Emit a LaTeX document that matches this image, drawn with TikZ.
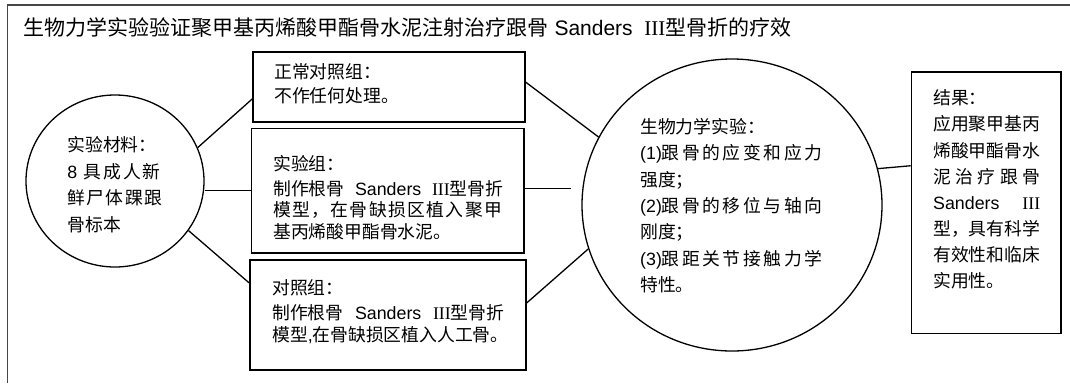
\documentclass[tikz,border=0pt]{standalone}
\usepackage{fontspec}
\setmainfont{Noto Sans CJK SC}
\newfontfamily\lat{Liberation Sans}
\newfontfamily\tnr{Liberation Serif}
\usetikzlibrary{shapes.geometric}
\definecolor{framegray}{RGB}{70,70,70}
\newcommand\jl[2]{\makebox[#1pt][s]{#2}}
\begin{document}
\begin{tikzpicture}[x=1pt,y=-1pt,
  boxnode/.style={draw=black, line width=1.6pt, rectangle, inner sep=0pt},
  ovalnode/.style={draw=black, line width=1.3pt, ellipse, inner sep=0pt},
  txt/.style={anchor=base west, inner sep=0pt, text=black},
  link/.style={draw=black, line width=1.3pt},
  frameline/.style={draw=framegray, line width=1.4pt}
]
\useasboundingbox (0,0) rectangle (1070,383);
% outer frame (top and left edges)
\draw[frameline] (7.3,383) -- (7.3,5) -- (1070,5);

% title
\node[txt, font=\fontsize{21}{25}\selectfont] (title) at (23.5,35)
  {生物力学实验验证聚甲基丙烯酸甲酯骨水泥注射治疗跟骨{\lat\ Sanders\ \ }{\tnr III}型骨折的疗效};

% shapes
\node[ovalnode, minimum width=178pt, minimum height=172pt] (lc) at (115,181) {};
\node[boxnode, minimum width=272pt, minimum height=70pt] (b1) at (389,87) {};
\node[boxnode, minimum width=272.5pt, minimum height=124.2pt] (b2) at (387.75,190.6) {};
\node[boxnode, minimum width=276pt, minimum height=110pt] (b3) at (388,315) {};
\node[ovalnode, minimum width=300pt, minimum height=292pt] (cc) at (732,205) {};
\node[boxnode, minimum width=149.5pt, minimum height=261.8pt] (res) at (986.25,202.6) {};

% texts
\node[txt] (tlc) at (67.2,151.5) {\parbox[t]{110pt}{\fontsize{17.8}{26.5}\selectfont\raggedright
  实验材料：\\
  \jl{93}{{\lat 8\ }\hfil 具\hfil 成\hfil 人\hfil 新}\\
  \jl{95}{鲜\hfil 尸\hfil 体\hfil 踝\hfil 跟}\\
  骨标本}};

\node[txt] (tb1) at (274,78.2) {\parbox[t]{245pt}{\fontsize{17.8}{21.7}\selectfont\raggedright
  正常对照组：\\[2.3pt]
  不作任何处理。}};

\node[txt] (tb2) at (273,170) {\parbox[t]{245pt}{\fontsize{17.8}{21.7}\selectfont\raggedright
  实验组：\\[3.3pt]
  \jl{230}{制作根骨{\lat\ Sanders\ }{\tnr III}型骨折}\\
  \jl{229}{模\hfil 型\hfil ，\hfil 在\hfil 骨\hfil 缺\hfil 损\hfil 区\hfil 植\hfil 入\hfil 聚\hfil 甲}\\
  基丙烯酸甲酯骨水泥。}};

\node[txt] (tb3) at (272,294.8) {\parbox[t]{250pt}{\fontsize{17.8}{21.7}\selectfont\raggedright
  对照组：\\[3.3pt]
  \jl{232}{制作根骨{\lat\ Sanders\ }{\tnr III}型骨折}\\
  模型{\lat ,}在骨缺损区植入人工骨。}};

\node[txt] (tcc) at (640,133.2) {\parbox[t]{195pt}{\fontsize{17.8}{26.4}\selectfont\raggedright
  生物力学实验：\\
  \jl{182}{{\lat (1)}跟\hfil 骨\hfil 的\hfil 应\hfil 变\hfil 和\hfil 应\hfil 力}\\
  强度；\\
  \jl{182}{{\lat (2)}跟\hfil 骨\hfil 的\hfil 移\hfil 位\hfil 与\hfil 轴\hfil 向}\\
  刚度；\\
  \jl{182}{{\lat (3)}跟\hfil 距\hfil 关\hfil 节\hfil 接\hfil 触\hfil 力\hfil 学}\\
  特性。}};

\node[txt] (tres) at (933,104.8) {\parbox[t]{115pt}{\fontsize{17.8}{26.1}\selectfont\raggedright
  结果：\\
  应用聚甲基丙\\
  烯酸甲酯骨水\\
  \jl{107}{泥\hfil 治\hfil 疗\hfil 跟\hfil 骨}\\
  \jl{107}{{\lat Sanders}\hfil{\tnr III}}\\
  型，具有科学\\
  有效性和临床\\
  实用性。}};

% connectors
\draw[link] (lc.22.8) -- (b1.185.5);
\draw[link] (lc.east |- b2.west) -- (b2.west);
\draw[link] (lc.-34) -- (b3.167.7);
\draw[link] (b1.2.9) -- (cc.153.1);
\draw[link, shorten >=10pt] (b2.1.9) -- (b2.1.9 -| cc.west);
\draw[link] (b3.5.5) -- (cc.197);
\draw[link] (cc.14.8) -- (res.154.35);
\end{tikzpicture}
\end{document}
